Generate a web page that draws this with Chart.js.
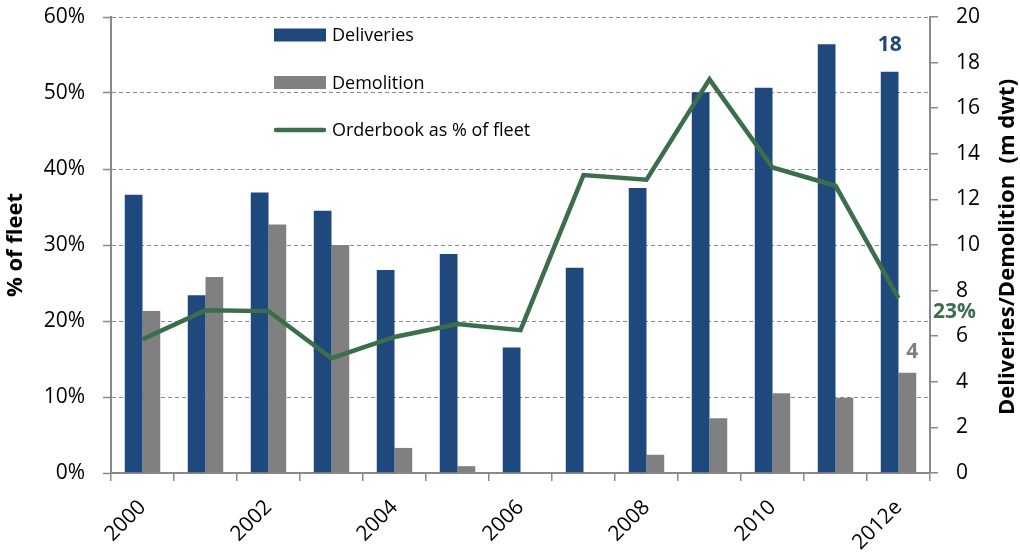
<!DOCTYPE html>
<html>
<head>
<meta charset="utf-8">
<script src="https://cdn.jsdelivr.net/npm/chart.js@4"></script>
<style>
  html, body { margin: 0; padding: 0; background: #fff; }
  #wrap { width: 1020px; height: 552px; }
</style>
</head>
<body>
<div id="wrap"><canvas id="chart" width="1020" height="552"></canvas></div>
<script>
// values
const years = ['2000', '2001', '2002', '2003', '2004', '2005', '2006', '2007', '2008', '2009', '2010', '2011', '2012e'];
const deliveries = [12.2, 7.8, 12.3, 11.5, 8.9, 9.6, 5.5, 9.0, 12.5, 16.7, 16.9, 18.8, 17.6]; // m dwt
const demolition = [7.1, 8.6, 10.9, 10.0, 1.1, 0.3, 0, 0, 0.8, 2.4, 3.5, 3.3, 4.4];           // m dwt
const orderbook = [17.6, 21.4, 21.3, 15.1, 17.9, 19.6, 18.8, 39.2, 38.6, 51.8, 40.2, 37.8, 23.0]; // % of fleet
const pctTicks = [0, 10, 20, 30, 40, 50, 60];
const dwtTicks = [0, 2, 4, 6, 8, 10, 12, 14, 16, 18, 20];

const BLUE = '#1f497d';
const GREY = '#808080';
const GREEN = '#3b6e4a';
const AXIS = '#898989';
const FONT = "'Open Sans', 'Noto Sans', sans-serif";

// fixed scale sizes so the plot area sits where the original does
const fixSize = (w, h) => s => {
  if (w) s.width = w;
  if (h) s.height = h;
  s.paddingTop = 0;
  s.paddingBottom = 0;
  s.paddingLeft = 0;
  s.paddingRight = 0;
};

// legend drawn inside the plot, stacked like the original
const legendPlugin = {
  id: 'boxLegend',
  afterDraw(chart) {
    const ctx = chart.ctx;
    const items = [1, 2, 0]; // deliveries, demolition, orderbook
    const left = 274, top = 35, step = 47.5;
    ctx.save();
    ctx.font = '18px ' + FONT;
    ctx.textBaseline = 'middle';
    ctx.fillStyle = '#000';
    items.forEach((di, i) => {
      const ds = chart.data.datasets[di];
      const y = top + i * step;
      if (ds.type === 'line') {
        ctx.strokeStyle = ds.borderColor;
        ctx.lineWidth = 4.5;
        ctx.lineCap = 'round';
        ctx.beginPath();
        ctx.moveTo(left + 2, y);
        ctx.lineTo(left + 50, y);
        ctx.stroke();
      } else {
        ctx.fillStyle = ds.backgroundColor;
        ctx.fillRect(left, y - 6.5, 52, 13);
      }
      ctx.fillStyle = '#000';
      ctx.fillText(ds.label, left + 58, y + 1);
    });
    ctx.restore();
  }
};

// last-value labels and both axis titles
const labelPlugin = {
  id: 'endLabels',
  afterDraw(chart) {
    const ctx = chart.ctx;
    const last = years.length - 1;
    ctx.save();
    ctx.font = 'bold 21px ' + FONT;
    ctx.textAlign = 'center';
    ctx.textBaseline = 'middle';

    const dEl = chart.getDatasetMeta(1).data[last];
    ctx.fillStyle = BLUE;
    ctx.fillText(Math.round(deliveries[last]), dEl.x, dEl.y - 27);

    const mEl = chart.getDatasetMeta(2).data[last];
    ctx.fillStyle = GREY;
    ctx.fillText(Math.round(demolition[last]), mEl.x + 5, mEl.y - 21);

    const oEl = chart.getDatasetMeta(0).data[last];
    ctx.fillStyle = GREEN;
    ctx.fillText(Math.round(orderbook[last]) + '%', oEl.x + 56, oEl.y + 14);

    // axis titles, both reading bottom to top
    const area = chart.chartArea;
    const midY = (area.top + area.bottom) / 2;
    ctx.fillStyle = '#000';
    ctx.font = 'bold 22px ' + FONT;
    ctx.translate(16, midY);
    ctx.rotate(-Math.PI / 2);
    ctx.fillText('% of fleet', 0, 0);
    ctx.setTransform(1, 0, 0, 1, 0, 0);
    ctx.translate(1008, 247);
    ctx.rotate(-Math.PI / 2);
    ctx.fillText('Deliveries/Demolition  (m dwt)', 0, 0);
    ctx.restore();
  }
};

const ctx = document.getElementById('chart');
new Chart(ctx, {
  data: {
    labels: years,
    datasets: [
      {
        type: 'line',
        label: 'Orderbook as % of fleet',
        data: orderbook,
        yAxisID: 'y',
        borderColor: GREEN,
        backgroundColor: GREEN,
        borderWidth: 4.5,
        pointRadius: 0,
        tension: 0,
        borderJoinStyle: 'miter'
      },
      {
        type: 'bar',
        label: 'Deliveries',
        data: deliveries,
        yAxisID: 'y1',
        backgroundColor: BLUE,
        categoryPercentage: 0.563,
        barPercentage: 1.0
      },
      {
        type: 'bar',
        label: 'Demolition',
        data: demolition,
        yAxisID: 'y1',
        backgroundColor: GREY,
        categoryPercentage: 0.563,
        barPercentage: 1.0
      }
    ]
  },
  options: {
    responsive: false,
    animation: false,
    devicePixelRatio: 1,
    layout: { padding: { top: 17, left: 0, right: 0, bottom: 0 } },
    plugins: {
      legend: { display: false },
      tooltip: { enabled: false }
    },
    scales: {
      x: {
        offset: true,
        afterFit: fixSize(0, 79),
        grid: {
          offset: true,
          drawOnChartArea: false,
          drawTicks: true,
          tickLength: 8,
          color: AXIS,
          lineWidth: 1.5
        },
        border: { color: AXIS, width: 2 },
        ticks: {
          autoSkip: false,
          minRotation: 45,
          maxRotation: 45,
          padding: 14,
          color: '#000',
          font: { family: FONT, size: 21 },
          callback: (v, i) => (i % 2 === 0 ? years[i] : '')
        }
      },
      y: {
        position: 'left',
        min: 0,
        max: 60,
        afterFit: fixSize(111, 0),
        afterBuildTicks: s => { s.ticks = pctTicks.map(v => ({ value: v })); },
        grid: {
          color: AXIS,
          lineWidth: 1,
          tickLength: 8,
          tickColor: AXIS,
          tickWidth: 1.5
        },
        border: { color: AXIS, width: 2, dash: [4, 3] },
        ticks: {
          padding: 18,
          color: '#000',
          font: { family: FONT, size: 21 },
          callback: v => v + '%'
        }
      },
      y1: {
        position: 'right',
        min: 0,
        max: 20,
        afterFit: fixSize(90, 0),
        afterBuildTicks: s => { s.ticks = dwtTicks.map(v => ({ value: v })); },
        grid: {
          drawOnChartArea: false,
          tickLength: 8,
          color: AXIS,
          lineWidth: 1.5
        },
        border: { color: AXIS, width: 2 },
        ticks: {
          padding: 18,
          color: '#000',
          font: { family: FONT, size: 21 }
        }
      }
    }
  },
  plugins: [legendPlugin, labelPlugin]
});
</script>
</body>
</html>
